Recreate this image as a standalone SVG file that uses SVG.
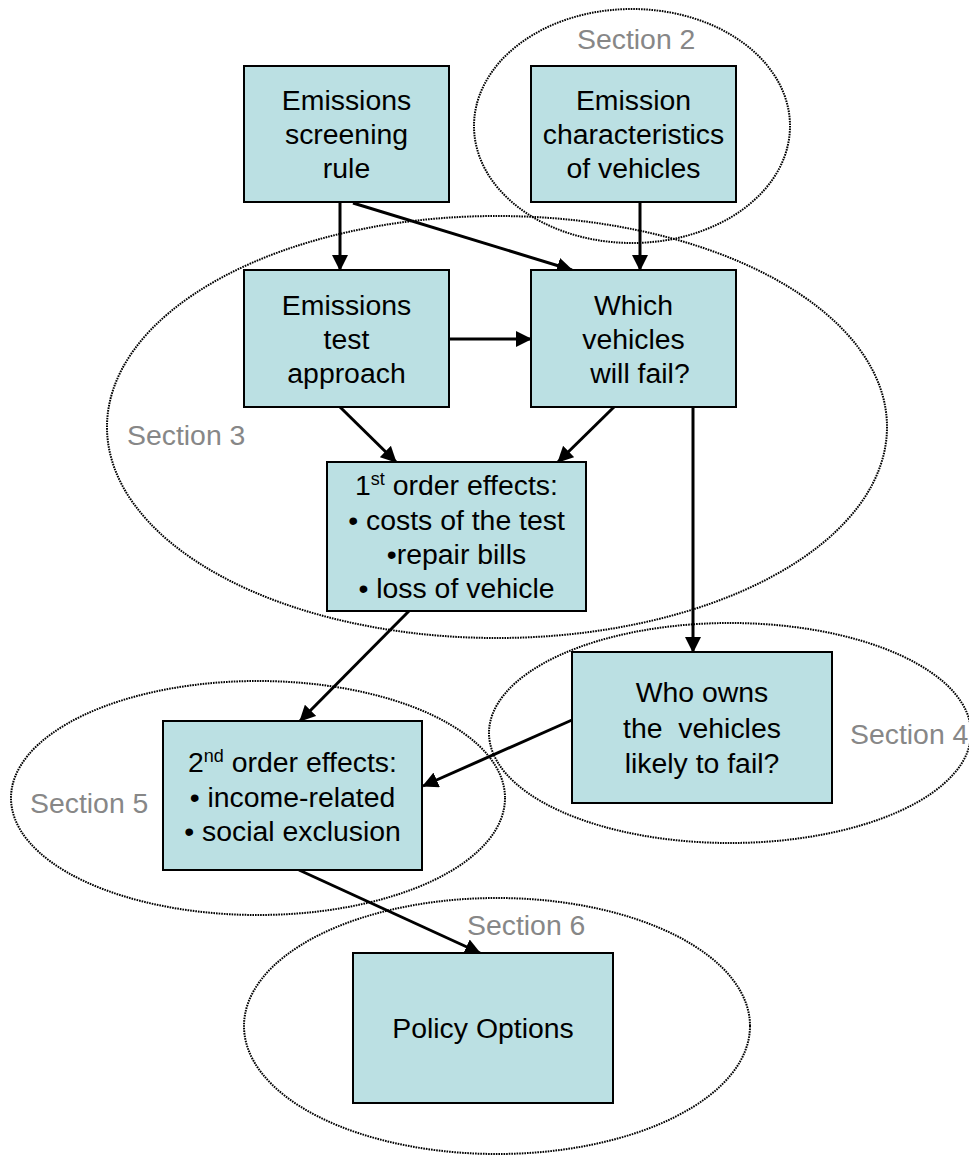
<svg xmlns="http://www.w3.org/2000/svg" width="969" height="1157" viewBox="0 0 969 1157">
<defs>
<style>
.sec{fill:none;stroke:#000;stroke-width:2;stroke-dasharray:1.6 1}
.box{fill:#BBE0E3;stroke:#000;stroke-width:2}
.t{font-family:"Liberation Sans",Arial,sans-serif;font-size:28.4px;fill:#000;text-anchor:middle}
.lbl{font-family:"Liberation Sans",Arial,sans-serif;font-size:28.4px;fill:#878787}
.c{fill:none;stroke:#000;stroke-width:3;marker-end:url(#ah)}
</style>
<marker id="ah" markerUnits="userSpaceOnUse" viewBox="0 0 16 16" refX="15" refY="8" markerWidth="16" markerHeight="16" orient="auto">
<path d="M0,0 L16,8 L0,16 z" fill="#000"/>
</marker>
</defs>
<g id="sections">
<ellipse id="section2" class="sec" cx="632" cy="126" rx="158" ry="117"/>
<ellipse id="section3" class="sec" cx="497" cy="427" rx="390" ry="211"/>
<ellipse id="section4" class="sec" cx="730" cy="733" rx="241" ry="110"/>
<ellipse id="section5" class="sec" cx="258" cy="798" rx="247" ry="117"/>
<ellipse id="section6" class="sec" cx="497" cy="1026" rx="253" ry="128"/>
<text class="lbl" x="577" y="49">Section 2</text>
<text class="lbl" x="127" y="445">Section 3</text>
<text class="lbl" x="850" y="744">Section 4</text>
<text class="lbl" x="30" y="813">Section 5</text>
<text class="lbl" x="467" y="935">Section 6</text>
</g>
<g id="connectors">
<line class="c" x1="340" y1="203" x2="340" y2="270"/>
<line class="c" x1="353" y1="203" x2="572" y2="270"/>
<line class="c" x1="640" y1="203" x2="640" y2="270"/>
<line class="c" x1="449" y1="339" x2="531" y2="339"/>
<line class="c" x1="340" y1="407" x2="396" y2="462"/>
<line class="c" x1="614" y1="407" x2="558" y2="462"/>
<line class="c" x1="693" y1="407" x2="693" y2="652"/>
<line class="c" x1="409" y1="611" x2="300" y2="721"/>
<line class="c" x1="572" y1="720" x2="423" y2="786"/>
<line class="c" x1="299" y1="870" x2="480" y2="953"/>
</g>
<g id="n1">
<rect class="box" x="244" y="66" width="205" height="136"/>
<text class="t"><tspan x="346.5" y="110">Emissions</tspan><tspan x="346.5" y="144">screening</tspan><tspan x="346.5" y="178">rule</tspan></text>
</g>
<g id="n2">
<rect class="box" x="531" y="66" width="205" height="136"/>
<text class="t"><tspan x="633.5" y="110">Emission</tspan><tspan x="633.5" y="144">characteristics</tspan><tspan x="633.5" y="178">of vehicles</tspan></text>
</g>
<g id="n3">
<rect class="box" x="244" y="270" width="205" height="137"/>
<text class="t"><tspan x="346.5" y="315">Emissions</tspan><tspan x="346.5" y="349">test</tspan><tspan x="346.5" y="383">approach</tspan></text>
</g>
<g id="n4">
<rect class="box" x="531" y="270" width="205" height="137"/>
<text class="t"><tspan x="633.5" y="315">Which</tspan><tspan x="633.5" y="349">vehicles</tspan><tspan x="640" y="383">will fail?</tspan></text>
</g>
<g id="n5">
<rect class="box" x="327" y="462" width="259" height="149"/>
<text class="t" x="456.5" y="495">1<tspan font-size="18" dy="-10">st</tspan><tspan dy="10"> order effects:</tspan></text>
<text class="t"><tspan x="456.5" y="530">• costs of the test</tspan><tspan x="456.5" y="564">•repair bills</tspan><tspan x="456.5" y="598">• loss of vehicle</tspan></text>
</g>
<g id="n6">
<rect class="box" x="572" y="652" width="260" height="151"/>
<text class="t" xml:space="preserve"><tspan x="702" y="702">Who owns</tspan><tspan x="702" y="738">the  vehicles</tspan><tspan x="702" y="773">likely to fail?</tspan></text>
</g>
<g id="n7">
<rect class="box" x="163" y="721" width="259" height="149"/>
<text class="t" x="292.5" y="772">2<tspan font-size="18" dy="-10">nd</tspan><tspan dy="10"> order effects:</tspan></text>
<text class="t"><tspan x="292.5" y="807">• income-related</tspan><tspan x="292.5" y="841">• social exclusion</tspan></text>
</g>
<g id="n8">
<rect class="box" x="353" y="953" width="260" height="150"/>
<text class="t" x="483" y="1038">Policy Options</text>
</g>
</svg>
